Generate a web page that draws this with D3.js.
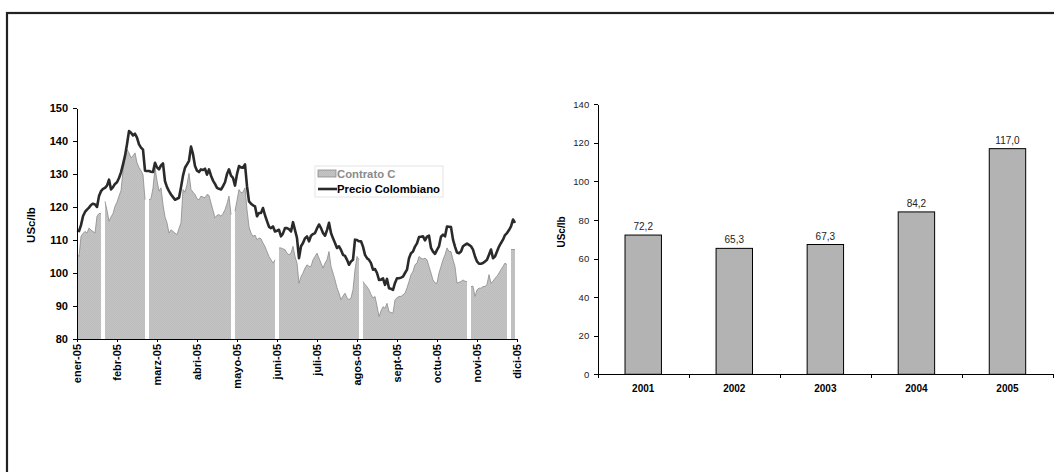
<!DOCTYPE html>
<html lang="es">
<head>
<meta charset="UTF-8">
<title>Precio Colombiano y Contrato C</title>
<style>
  body { margin: 0; background: #fff; }
  svg { display: block; font-family: 'Liberation Sans', Arial, sans-serif; }
  .axis path, .axis line { stroke: #000; shape-rendering: crispEdges; }
</style>
</head>
<body>
<svg id="chart" width="1054" height="472"></svg>
<script src="https://d3js.org/d3.v7.min.js"></script>
<script>
// Meses del eje (cada 20 ruedas de cotización)
const meses = ["ener-05", "febr-05", "marz-05", "abri-05", "mayo-05", "juni-05",
               "juli-05", "agos-05", "sept-05", "octu-05", "novi-05", "dici-05"];

// Precio Colombiano diario, US¢/lb
const precio = [
  112.8, 112.7, 114.5, 117.2, 118.5, 119.2, 119.8, 120.6, 121.0, 120.8, 120.0, 123.3, 124.8, 125.5, 125.8, 126.5, 128.3, 125.3, 126.0, 127.0,
  127.5, 128.8, 130.5, 132.9, 135.5, 139.0, 143.0, 142.5, 141.7, 142.2, 141.0, 139.0, 138.0, 137.4, 131.0, 130.9, 130.9, 130.7, 130.6, 133.4,
  132.0, 131.4, 132.6, 133.2, 127.8, 126.0, 124.8, 123.8, 123.0, 122.2, 122.5, 122.8, 126.0, 129.5, 131.9, 132.9, 134.0, 138.3, 136.0, 132.4,
  131.0, 130.6, 131.4, 131.2, 131.6, 129.8, 131.4, 129.5, 128.0, 127.0, 125.8, 125.5, 125.3, 126.3, 127.5, 130.0, 131.4, 129.5, 128.8, 126.5,
  130.0, 132.4, 132.0, 131.9, 132.9, 126.3, 121.7, 121.0, 120.5, 120.2, 117.2, 118.2, 118.2, 119.7, 117.5, 115.7, 114.0, 113.6, 114.1, 112.6,
  112.8, 113.1, 111.1, 112.0, 113.6, 113.6, 113.3, 112.6, 115.4, 113.0, 110.6, 104.5, 108.1, 109.1, 110.5, 111.1, 109.6, 111.3, 111.8, 112.1,
  113.5, 114.7, 113.6, 112.1, 111.3, 113.0, 115.2, 112.1, 110.5, 109.1, 107.6, 108.1, 107.0, 105.5, 105.2, 104.0, 102.5, 103.5, 104.0, 110.1,
  110.0, 109.6, 109.6, 108.0, 105.5, 104.5, 104.0, 103.0, 101.0, 101.2, 100.0, 97.9, 98.0, 98.4, 96.4, 98.2, 95.4, 95.2, 94.9, 97.0,
  98.4, 98.4, 98.6, 98.9, 100.0, 101.0, 104.5, 106.0, 106.5, 108.0, 109.0, 110.9, 111.0, 111.1, 109.9, 111.0, 111.3, 107.6, 106.5, 105.8,
  107.0, 108.1, 111.0, 111.6, 111.1, 114.1, 114.0, 113.9, 110.1, 108.0, 106.2, 106.0, 106.5, 108.1, 108.5, 108.9, 108.5, 108.1, 107.1, 105.0,
  103.5, 102.8, 102.8, 103.0, 103.5, 104.0, 105.5, 107.1, 104.5, 105.0, 106.5, 108.0, 109.1, 110.1, 111.5, 112.1, 113.0, 114.1, 116.2, 115.2
];

// Contrato C diario, US¢/lb (null = sin cotización)
const contrato = [
  105.8, 105.0, 111.1, 112.0, 112.6, 112.1, 113.6, 113.0, 112.6, 112.1, 117.2, 118.0, 118.0, null, 121.7, 119.0, 115.7, 117.0, 118.0, 120.2,
  121.5, 123.3, 125.0, 131.0, 135.0, 137.4, 136.4, 134.9, 135.5, 136.4, 133.4, 132.0, 131.0, 129.8, 122.2, null, 122.2, 122.5, 125.8, 131.9,
  128.0, 124.8, 125.8, 120.7, 117.0, 115.2, 112.1, 113.1, 112.6, 112.1, 111.6, 113.5, 115.2, 125.3, 124.5, 126.8, 130.2, 125.3, 124.5, 123.8,
  122.5, 122.2, 123.3, 123.0, 122.8, 123.8, 123.5, 121.2, 119.0, 116.7, 117.5, 117.7, 117.2, 118.0, 119.2, 121.0, 123.3, 117.7, null, 118.7,
  122.0, 125.3, 124.3, 124.5, 125.8, 119.2, 114.0, 112.1, 111.1, 111.5, 110.1, 110.6, 110.4, 109.1, 108.0, 106.5, 105.0, 104.0, 103.0, 104.0,
  null, 107.6, 107.6, 107.3, 107.1, 106.0, 105.5, 106.0, 108.1, 105.0, 103.0, 96.9, 98.9, 100.0, 101.5, 102.5, 102.0, 102.0, 104.0, 105.0,
  106.0, 104.5, 103.0, 101.5, 103.0, 104.0, 106.5, 102.0, 100.0, 97.9, 95.5, 93.9, 91.9, 93.0, 93.9, 92.5, 91.9, 92.4, 95.0, 101.0,
  105.0, 104.0, null, 97.4, 96.5, 95.9, 94.9, 93.5, 92.4, 92.9, 90.0, 86.8, 88.5, 89.8, 89.3, 90.8, 88.3, 88.0, 87.8, 91.9,
  92.5, 92.9, 92.9, 93.4, 93.9, 95.5, 97.4, 99.5, 100.5, 102.5, 103.0, 105.0, 104.5, 104.2, 104.5, 104.0, 102.0, 100.0, 97.9, 97.0,
  96.9, 100.0, 102.0, 104.0, 105.5, 107.6, 106.5, 106.5, 104.0, 102.0, 96.9, 97.2, 97.4, 97.9, 97.5, 97.4, null, 95.9, 96.0, 92.9,
  94.9, 95.4, 95.4, 95.9, 95.9, 96.5, 99.5, 96.9, 97.5, 98.4, 99.0, 100.0, 101.0, 102.0, 103.0, 102.5, null, 107.1, 107.1, 107.1
];

// Promedio anual
const anios = ["2001", "2002", "2003", "2004", "2005"];
const promedio = [72.2, 65.3, 67.3, 84.2, 117.0];

const ticksIzq = [80, 90, 100, 110, 120, 130, 140, 150];
const ticksDer = [0, 20, 40, 60, 80, 100, 120, 140];

const svg = d3.select("#chart");

// marco de la figura (solo se ven los bordes superior e izquierdo)
svg.append("rect")
    .attr("x", 7).attr("y", 13)
    .attr("width", 1100).attr("height", 500)
    .attr("fill", "none")
    .attr("stroke", "#222")
    .attr("stroke-width", 2.2);

// trama del área
const pat = svg.append("defs").append("pattern")
    .attr("id", "trama")
    .attr("width", 2).attr("height", 2)
    .attr("patternUnits", "userSpaceOnUse");
pat.append("rect").attr("width", 2).attr("height", 2).attr("fill", "#c4c4c4");
pat.append("rect").attr("width", 1).attr("height", 1).attr("fill", "#bcbcbc");
pat.append("rect").attr("x", 1).attr("y", 1).attr("width", 1).attr("height", 1).attr("fill", "#bcbcbc");

// ---------- gráfico izquierdo: serie diaria ----------
const xL = d3.scaleLinear().domain([0, 220]).range([77, 517]);
const yL = d3.scaleLinear().domain([80, 150]).range([339, 108]);

const izq = svg.append("g");

const area = d3.area()
    .defined(d => d != null)
    .x((d, i) => xL(i))
    .y0(yL(80))
    .y1(d => yL(d));

izq.append("path")
    .datum(contrato)
    .attr("d", area)
    .attr("fill", "url(#trama)");

izq.append("path")
    .datum(contrato)
    .attr("d", d3.line().defined(d => d != null).x((d, i) => xL(i)).y(d => yL(d)))
    .attr("fill", "none")
    .attr("stroke", "#8a8a8a")
    .attr("stroke-width", 0.8);

izq.append("path")
    .datum(precio)
    .attr("d", d3.line().x((d, i) => xL(i)).y(d => yL(d)))
    .attr("fill", "none")
    .attr("stroke", "#2a2a2a")
    .attr("stroke-width", 2.6)
    .attr("stroke-linejoin", "round");

const ejeYL = izq.append("g")
    .attr("class", "axis")
    .attr("transform", `translate(${xL(0)},0)`)
    .call(d3.axisLeft(yL).tickValues(ticksIzq).tickSize(4).tickSizeOuter(0).tickPadding(5));
ejeYL.selectAll("text")
    .style("font-size", "11px")
    .style("font-weight", "bold")
    .attr("fill", "#000");

const ejeXL = izq.append("g")
    .attr("class", "axis")
    .attr("transform", `translate(0,${yL(80)})`)
    .call(d3.axisBottom(xL)
        .tickValues(d3.range(0, 221, 20))
        .tickFormat((d, i) => meses[i])
        .tickSize(3)
        .tickSizeOuter(0));
ejeXL.selectAll("text")
    .attr("transform", "rotate(-90)")
    .attr("x", -5)
    .attr("y", 0)
    .attr("dy", "0.35em")
    .style("text-anchor", "end")
    .style("font-size", "11px")
    .style("font-weight", "bold")
    .attr("fill", "#000");

izq.append("text")
    .attr("transform", "translate(31,225) rotate(-90)")
    .attr("text-anchor", "middle")
    .attr("dy", "0.35em")
    .style("font-size", "11.5px")
    .style("font-weight", "bold")
    .text("USc/lb");

// leyenda
const ley = izq.append("g").attr("transform", "translate(315,166)");
ley.append("rect")
    .attr("width", 128).attr("height", 31)
    .attr("fill", "#fff")
    .attr("stroke", "#e4e4e4");
ley.append("rect")
    .attr("x", 3).attr("y", 4)
    .attr("width", 18).attr("height", 7)
    .attr("fill", "url(#trama)")
    .attr("stroke", "#8a8a8a")
    .attr("stroke-width", 0.8);
ley.append("text")
    .attr("x", 22).attr("y", 12)
    .style("font-size", "11.3px")
    .style("font-weight", "bold")
    .attr("fill", "#8a8a8a")
    .text("Contrato C");
ley.append("line")
    .attr("x1", 3).attr("x2", 22)
    .attr("y1", 23).attr("y2", 23)
    .attr("stroke", "#2a2a2a")
    .attr("stroke-width", 2.6);
ley.append("text")
    .attr("x", 22).attr("y", 27)
    .style("font-size", "11.3px")
    .style("font-weight", "bold")
    .attr("fill", "#000")
    .text("Precio Colombiano");

// ---------- gráfico derecho: promedio anual ----------
const xR = d3.scaleBand()
    .domain(anios)
    .range([597.7, 1053])
    .paddingInner(0.6)
    .paddingOuter(0.3);
const yR = d3.scaleLinear().domain([0, 140]).range([374.3, 104.3]);
const xRlim = d3.scaleLinear().domain([0, anios.length]).range([597.7, 1053]);

const der = svg.append("g");

der.selectAll("rect.barra")
    .data(promedio)
    .join("rect")
    .attr("class", "barra")
    .attr("x", (d, i) => xR(anios[i]))
    .attr("y", d => yR(d))
    .attr("width", xR.bandwidth())
    .attr("height", d => yR(0) - yR(d))
    .attr("fill", "#b3b3b3")
    .attr("stroke", "#000")
    .attr("stroke-width", 1);

der.selectAll("text.valor")
    .data(promedio)
    .join("text")
    .attr("class", "valor")
    .attr("x", (d, i) => xR(anios[i]) + xR.bandwidth() / 2)
    .attr("y", d => yR(d) - 5)
    .attr("text-anchor", "middle")
    .style("font-size", "10px")
    .attr("fill", "#222")
    .text(d => d3.format(".1f")(d).replace(".", ","));

const ejeYR = der.append("g")
    .attr("class", "axis")
    .attr("transform", `translate(${xRlim(0)},0)`)
    .call(d3.axisLeft(yR).tickValues(ticksDer).tickSize(4).tickSizeOuter(0).tickPadding(4.5));
ejeYR.selectAll("text")
    .style("font-size", "9.5px")
    .attr("fill", "#222");

der.append("g")
    .attr("class", "axis")
    .attr("transform", `translate(0,${yR(0)})`)
    .call(d3.axisBottom(xRlim).tickValues(d3.range(0, anios.length + 1)).tickFormat("").tickSize(4).tickSizeOuter(0));

const ejeXR = der.append("g")
    .attr("transform", `translate(0,${yR(0)})`)
    .call(d3.axisBottom(xR).tickSize(0).tickPadding(11));
ejeXR.select(".domain").remove();
ejeXR.selectAll("text")
    .style("font-size", "10px")
    .style("font-weight", "bold")
    .attr("fill", "#000");

der.append("text")
    .attr("transform", "translate(561,232) rotate(-90)")
    .attr("text-anchor", "middle")
    .attr("dy", "0.35em")
    .style("font-size", "10px")
    .style("font-weight", "bold")
    .text("USc/lb");
</script>
</body>
</html>
